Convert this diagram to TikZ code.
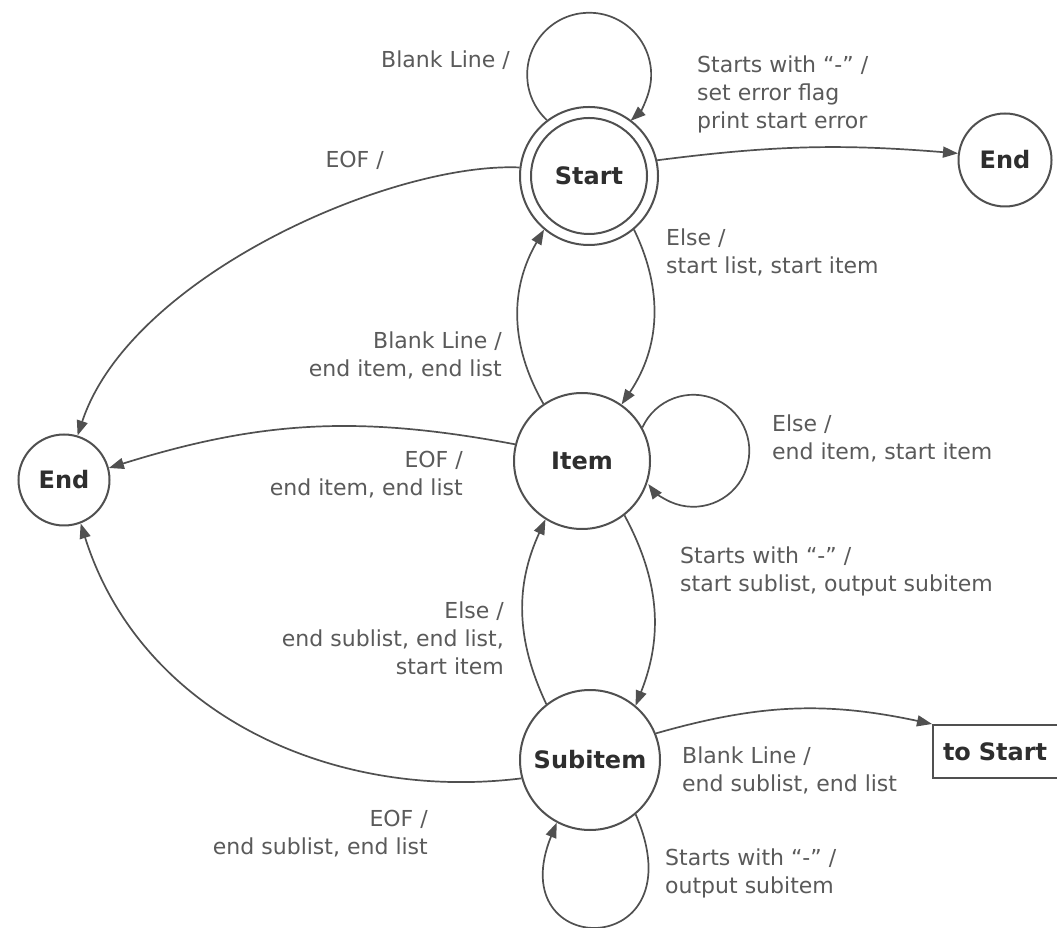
\documentclass[tikz,border=0pt]{standalone}
\usepackage{fontspec}
\setmainfont{DejaVu Sans}
\usetikzlibrary{arrows.meta}
\definecolor{linec}{HTML}{505050}
\definecolor{textc}{HTML}{2E2E2E}
\definecolor{lblc}{HTML}{5A5A5A}
\begin{document}
\begin{tikzpicture}[x=1pt,y=1pt,
  state/.style={circle, draw=linec, line width=2pt, inner sep=0pt, font=\fontsize{24}{28}\selectfont\bfseries, text=textc},
  lbl/.style={inner sep=0pt, font=\fontsize{22}{28}\selectfont, text=lblc},
  edge/.style={draw=linec, line width=1.7pt, -{Triangle[length=15pt,width=11pt]}}]
\clip (0,0) rectangle (1057,927);
\fill[white] (0,0) rectangle (1057,927);

% states
\node[state, minimum size=138] (Start) at (589,751) {Start};
\node[state, minimum size=116] (StartIn) at (Start) {};
\node[state, minimum size=93] (EndR) at (1005,767) {End};
\node[state, minimum size=91] (EndL) at (64,447) {End};
\node[state, minimum size=136] (Item) at (582,466) {Item};
\node[state, minimum size=140] (Sub) at (590,167) {Subitem};
\node[draw=linec, line width=2pt, anchor=west, minimum width=150, minimum height=53, inner sep=0pt,
      font=\fontsize{24}{28}\selectfont\bfseries, text=textc, text width=150] (ToStart) at (932,175.5) {\hspace*{10pt}to Start};

% self loops
\draw[edge] (Start.127) arc[start angle=227, end angle=-48, radius=62];
\draw[edge] (Item.29) arc[start angle=155.5, end angle=-143.5, radius=56];
\draw[edge] (Sub.-50) .. controls (700,-35) and (500,-35) .. (Sub.-118);

% transitions
\draw[edge] (Start.13) to[bend left=6] (EndR.172);
\draw[edge] (Start.173) .. controls (390,765) and (130,650) .. (EndL.73);
\draw[edge] (Start.-50) to[bend left=30] (Item.55);
\draw[edge] (Item.124) to[bend left=30] (Start.-130);
\draw[edge] (Item.166) to[bend right=14] (EndL.15);
\draw[edge] (Item.-52) to[bend left=25] (Sub.50);
\draw[edge] (Sub.128) to[bend left=25] (Item.-122);
\draw[edge] (Sub.22) to[bend left=14] (ToStart.north west);
\draw[edge] (Sub.195) .. controls (330,125) and (140,215) .. (EndL.-69);

% labels
\node[lbl, anchor=east, align=right] (l1) at (510,867) {Blank Line /};
\node[lbl, anchor=west, align=left] (l2) at (697,833) {Starts with “-” /\\set error flag\\print start error};
\node[lbl, anchor=east, align=right] (l3) at (384,767) {EOF /};
\node[lbl, anchor=west, align=left] (l4) at (666,675) {Else /\\start list, start item};
\node[lbl, anchor=east, align=right] (l5) at (502,572) {Blank Line /\\end item, end list};
\node[lbl, anchor=west, align=left] (l6) at (772,489) {Else /\\end item, start item};
\node[lbl, anchor=east, align=right] (l7) at (463,452) {EOF /\\end item, end list};
\node[lbl, anchor=west, align=left] (l8) at (680,356) {Starts with “-” /\\start sublist, output subitem};
\node[lbl, anchor=east, align=right] (l9) at (504,289) {Else /\\end sublist, end list,\\start item};
\node[lbl, anchor=west, align=left] (l10) at (682,157) {Blank Line /\\end sublist, end list};
\node[lbl, anchor=east, align=right] (l11) at (428,93) {EOF /\\end sublist, end list};
\node[lbl, anchor=west, align=left] (l12) at (665,54) {Starts with “-” /\\output subitem};
\end{tikzpicture}
\end{document}
